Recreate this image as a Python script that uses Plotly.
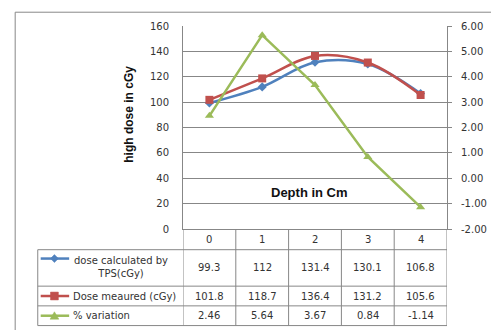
import plotly.graph_objects as go

depth = ["0", "1", "2", "3", "4"]
dose_tps = [99.3, 112, 131.4, 130.1, 106.8]
dose_meas = [101.8, 118.7, 136.4, 131.2, 105.6]
pct_var = [2.46, 5.64, 3.67, 0.84, -1.14]
series_names = ["dose calculated by<br>TPS(cGy)", "Dose meaured (cGy)", "% variation"]
left_ticks = [0, 20, 40, 60, 80, 100, 120, 140, 160]
right_ticks = [-2, -1, 0, 1, 2, 3, 4, 5, 6]

BLUE = "#4F81BD"
RED = "#C0504D"
GREEN = "#9BBB59"
GRID = "#878787"
FONT = "DejaVu Sans"

OFF = 8  # browser default body margin
W, H = 499 - OFF, 330 - OFF
# plot area in page pixels
L, R, T, B = 183, 452, 23, 229


def px(x):
    return (x - L) / (R - L)


def py(y):
    return (B - y) / (B - T)


xs = list(range(len(depth)))

fig = go.Figure()
fig.add_trace(go.Scatter(x=xs, y=dose_tps, mode="lines+markers",
                         line=dict(color=BLUE, width=2.5, shape="spline", smoothing=1),
                         marker=dict(symbol="diamond", size=7, color=BLUE),
                         showlegend=False))
fig.add_trace(go.Scatter(x=xs, y=dose_meas, mode="lines+markers",
                         line=dict(color=RED, width=2.5, shape="spline", smoothing=1),
                         marker=dict(symbol="square", size=8, color=RED),
                         showlegend=False))
fig.add_trace(go.Scatter(x=xs, y=pct_var, mode="lines+markers", yaxis="y2",
                         line=dict(color=GREEN, width=2.5),
                         marker=dict(symbol="triangle-up", size=8, color=GREEN),
                         showlegend=False))

fig.update_layout(
    width=W, height=H,
    margin=dict(l=L - OFF, r=W - (R - OFF), t=T - OFF, b=H - (B - OFF), pad=0),
    paper_bgcolor="white", plot_bgcolor="white",
    font=dict(family=FONT, size=10, color="#333"),
    xaxis=dict(range=[-0.5, len(depth) - 0.5], showticklabels=False, showgrid=False,
               zeroline=False, showline=True, linecolor=GRID, linewidth=1, ticks=""),
    yaxis=dict(range=[0, 160], tickvals=left_ticks, showgrid=True, gridcolor=GRID,
               gridwidth=1, zeroline=False, showline=True, linecolor=GRID,
               ticks="", ticklabelstandoff=11, tickfont=dict(size=10)),
    yaxis2=dict(range=[-2, 6], tickvals=right_ticks,
                ticktext=[f"{v:.2f}" for v in right_ticks], overlaying="y",
                side="right", showgrid=False, zeroline=False, showline=True,
                linecolor=GRID, ticks="outside", ticklen=4, tickcolor=GRID,
                ticklabelstandoff=7, tickfont=dict(size=10)),
)

shapes = []
ann = []


def note(x, y, text, xref="paper", xanchor="center", **kw):
    d = dict(x=x, y=y, xref=xref, yref="paper", text=text, showarrow=False,
             xanchor=xanchor, yanchor="middle")
    d.update(kw)
    ann.append(d)


# outer chart border
shapes.append(dict(type="line", xref="paper", yref="paper", x0=px(12), x1=px(W + 20),
                   y0=py(9), y1=py(9), line=dict(color="#888", width=1)))
shapes.append(dict(type="line", xref="paper", yref="paper", x0=px(12), x1=px(12),
                   y0=py(9), y1=py(H + 20), line=dict(color="#888", width=1)))

# data table
row_y = [229, 250, 287, 307, 327]
tl = 35
for yy in row_y[1:]:
    shapes.append(dict(type="line", xref="paper", yref="paper", x0=px(tl), x1=1,
                       y0=py(yy), y1=py(yy), line=dict(color=GRID, width=1)))
shapes.append(dict(type="line", xref="paper", yref="paper", x0=px(tl), x1=px(tl),
                   y0=py(row_y[1]), y1=py(row_y[-1]), line=dict(color=GRID, width=1)))
for k in range(len(depth) + 1):
    shapes.append(dict(type="line", xref="x", yref="paper", x0=k - 0.5, x1=k - 0.5,
                       y0=py(row_y[0]), y1=py(row_y[-1]), line=dict(color=GRID, width=1)))

# category header
for i, d in enumerate(depth):
    note(i, py(240), d, xref="x")

rows = [dose_tps, dose_meas, pct_var]
row_mid = [268, 297, 317]
for r, vals in enumerate(rows):
    for i, v in enumerate(vals):
        txt = f"{v:.2f}" if r == 2 else f"{v:g}"
        note(i, py(row_mid[r]), txt, xref="x")

# legend keys in table
colors = [BLUE, RED, GREEN]
key_y = [259, 297, 317]
kx = 52
for r in range(3):
    yy = key_y[r]
    shapes.append(dict(type="line", xref="paper", yref="paper", x0=px(38), x1=px(67),
                       y0=py(yy), y1=py(yy), line=dict(color=colors[r], width=2.5)))
    if r == 0:
        pts = [(kx, yy - 4), (kx + 4, yy), (kx, yy + 4), (kx - 4, yy)]
    elif r == 1:
        pts = [(kx - 4, yy - 4), (kx + 4, yy - 4), (kx + 4, yy + 4), (kx - 4, yy + 4)]
    else:
        pts = [(kx, yy - 4), (kx + 4.5, yy + 3.5), (kx - 4.5, yy + 3.5)]
    path = "M " + " L ".join(f"{px(a):.5f},{py(b):.5f}" for a, b in pts) + " Z"
    shapes.append(dict(type="path", xref="paper", yref="paper", path=path,
                       fillcolor=colors[r], line=dict(color=colors[r], width=0.5)))

note(px(120), py(268), series_names[0], align="center")
note(px(69), py(297), series_names[1], xanchor="left")
note(px(69), py(317), series_names[2], xanchor="left")

# axis titles
note(px(128), py(113), "<b>high dose in cGy</b>", textangle=-90,
     font=dict(family="Liberation Sans", size=12, color="#111"))
note(px(312), py(192), "<b>Depth in Cm</b>",
     font=dict(family="Liberation Sans", size=13, color="#111"))

fig.update_layout(shapes=shapes, annotations=ann)
fig.write_html("out.html")
